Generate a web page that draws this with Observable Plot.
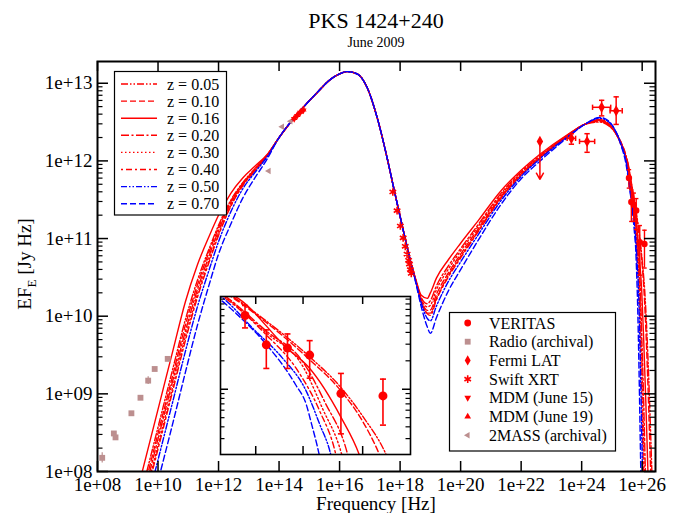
<!DOCTYPE html>
<html><head><meta charset="utf-8">
<script src="https://cdn.jsdelivr.net/npm/d3@7"></script>
<script src="https://cdn.jsdelivr.net/npm/@observablehq/plot@0.6"></script>
<style>
body{margin:0;background:#fff;}
#wrap{position:relative;width:685px;height:513px;overflow:hidden;background:#fff;font-family:"Liberation Serif","Times New Roman",serif;}
#wrap svg{position:absolute;}
</style></head><body><div id="wrap"></div>
<script>
// ---------------- axis ticks ----------------
const xTickValues = [1e8,1e10,1e12,1e14,1e16,1e18,1e20,1e22,1e24,1e26];
const xTickLabels = ["1e+08","1e+10","1e+12","1e+14","1e+16","1e+18","1e+20","1e+22","1e+24","1e+26"];
const yTickValues = [1e8,1e9,1e10,1e11,1e12,1e13];
const yTickLabels = ["1e+08","1e+09","1e+10","1e+11","1e+12","1e+13"];
const insetXTicks = [4e25, 6e25, 1e26];
const insetYMajor = [1e11];

// ---------------- model curves (log10 nu, log10 EF_E) ----------------
const zLabels = ["z = 0.05","z = 0.10","z = 0.16","z = 0.20","z = 0.30","z = 0.40","z = 0.50","z = 0.70"];
const low005 = [[9.5,7.8],[10.0,8.57],[10.5,9.34],[10.9,9.95],[11.3,10.46],[11.7,10.88],[12.0,11.17],[12.4,11.49],[12.8,11.72],[13.2,11.90],[13.6,12.07]];
const low010 = [[9.55,7.8],[10.0,8.49],[10.5,9.26],[10.9,9.88],[11.3,10.40],[11.7,10.84],[12.0,11.14],[12.4,11.47],[12.8,11.71],[13.2,11.89],[13.6,12.07]];
const low016 = [[9.35,7.8],[10.0,8.80],[10.5,9.57],[10.9,10.18],[11.3,10.66],[11.7,11.04],[12.0,11.30],[12.4,11.58],[12.8,11.78],[13.2,11.93],[13.6,12.08]];
const low020 = [[9.6,7.8],[10.0,8.42],[10.5,9.19],[10.9,9.80],[11.3,10.34],[11.7,10.79],[12.0,11.10],[12.4,11.45],[12.8,11.70],[13.2,11.88],[13.6,12.07]];
const low030 = [[9.65,7.8],[10.0,8.34],[10.5,9.11],[10.9,9.73],[11.3,10.28],[11.7,10.74],[12.0,11.06],[12.4,11.42],[12.8,11.69],[13.2,11.88],[13.6,12.06]];
const low040 = [[9.68,7.8],[10.0,8.29],[10.5,9.06],[10.9,9.68],[11.3,10.24],[11.7,10.71],[12.0,11.04],[12.4,11.41],[12.8,11.68],[13.2,11.87],[13.6,12.06]];
const low050 = [[9.77,7.8],[10.0,8.15],[10.5,8.92],[10.9,9.54],[11.3,10.12],[11.7,10.61],[12.0,10.96],[12.4,11.34],[12.8,11.64],[13.2,11.85],[13.6,12.05]];
const low070 = [[9.95,7.8],[10.5,8.64],[10.9,9.27],[11.3,9.88],[11.7,10.42],[12.0,10.80],[12.4,11.18],[12.8,11.52],[13.2,11.78],[13.6,12.02]];

const syncLogNu = [14.0,14.6,15.26,15.7,16.0,16.25,16.58,16.91,17.24,17.57,17.79,18.12,18.40];
const syncLogF  = [12.30,12.60,12.88,13.05,13.12,13.15,13.12,12.945,12.56,12.04,11.65,11.08,10.62];

const icLogNu = [18.5,18.7,18.9,19.0,19.2,19.6,20.0,20.6,21.3,22.0,22.6,23.5,24.1,24.6,24.9,25.1,25.3,25.47];
const ic005 = [10.48,10.19,10.04,10.04,10.23,10.53,10.77,11.11,11.51,11.82,12.03,12.31,12.47,12.50,12.45,12.37,12.24,12.06];
const ic010 = [10.48,10.21,10.075,10.08,10.28,10.56,10.80,11.135,11.525,11.83,12.04,12.31,12.47,12.51,12.46,12.38,12.24,12.05];
const ic016 = [10.50,10.27,10.23,10.30,10.49,10.73,10.94,11.24,11.60,11.88,12.08,12.33,12.47,12.53,12.46,12.38,12.23,12.04];
const ic020 = [10.49,10.24,10.16,10.20,10.39,10.65,10.87,11.19,11.565,11.86,12.06,12.32,12.47,12.52,12.46,12.37,12.22,12.02];
const ic030 = [10.49,10.22,10.12,10.14,10.34,10.61,10.84,11.165,11.545,11.845,12.05,12.32,12.47,12.53,12.47,12.37,12.21,12.01];
const ic040 = [10.48,10.19,10.03,10.01,10.21,10.51,10.75,11.10,11.50,11.82,12.03,12.31,12.47,12.53,12.48,12.38,12.21,12.00];
const ic050 = [10.47,10.17,9.97,9.94,10.13,10.45,10.70,11.06,11.47,11.80,12.02,12.30,12.47,12.55,12.50,12.40,12.22,11.99];
const ic070 = [10.46,10.12,9.86,9.78,9.98,10.33,10.60,10.99,11.42,11.77,11.99,12.29,12.47,12.56,12.51,12.40,12.20,11.95];

const vhe005 = [[25.64,11.725],[25.80,11.35],[25.92,11.015],[26.0,10.715],[26.087,10.31],[26.16,9.75],[26.24,8.95],[26.32,8.0],[26.37,7.4]];
const vhe010 = [[25.64,11.71],[25.80,11.32],[25.92,10.98],[26.0,10.66],[26.062,10.31],[26.13,9.75],[26.2,9.0],[26.28,8.0],[26.33,7.4]];
const vhe016 = [[25.52,11.99],[25.72,11.43],[25.80,11.23],[25.92,10.70],[25.987,10.31],[26.05,9.7],[26.12,8.9],[26.19,8.0],[26.24,7.4]];
const vhe020 = [[25.64,11.62],[25.78,11.28],[25.86,10.86],[25.944,10.31],[25.99,9.7],[26.05,8.9],[26.1,8.1],[26.15,7.4]];
const vhe030 = [[25.64,11.60],[25.78,11.23],[25.85,10.80],[25.922,10.31],[25.97,9.7],[26.02,8.9],[26.07,8.0],[26.11,7.4]];
const vhe040 = [[25.64,11.58],[25.76,11.19],[25.84,10.77],[25.90,10.31],[25.94,9.7],[25.99,8.9],[26.04,8.0],[26.08,7.4]];
const vhe050 = [[25.60,11.62],[25.70,11.335],[25.79,10.98],[25.84,10.63],[25.881,10.31],[25.92,9.7],[25.96,9.0],[26.0,8.2],[26.04,7.5]];
const vhe070 = [[25.53,11.80],[25.64,11.48],[25.75,11.05],[25.79,10.84],[25.81,10.63],[25.838,10.31],[25.87,9.8],[25.91,9.0],[25.95,8.1],[25.98,7.5]];

// ---------------- observations ----------------
const veritasNu = [3.65e25,4.38e25,5.25e25,6.35e25,8.30e25,1.19e26];
const veritasF  = [6.03e11,2.95e11,2.73e11,2.30e11,9.0e10,8.5e10];
const veritasHi = [7.71e11,4.25e11,3.85e11,3.27e11,1.47e11,1.28e11];
const veritasLo = [4.46e11,1.66e11,1.66e11,1.31e11,3.37e10,4.17e10];

const radioNu = [1.43e8,3.47e8,3.94e8,1.32e9,2.63e9,4.73e9,7.76e9,2.09e10];
const radioF  = [1.50e8,3.09e8,2.75e8,5.62e8,8.91e8,1.48e9,2.09e9,2.82e9];
const radioLo = [1.29e8,2.95e8,2.63e8,5.40e8,8.60e8,1.32e9,1.99e9,2.72e9];
const radioHi = [1.75e8,3.24e8,2.88e8,5.85e8,9.22e8,1.66e9,2.19e9,2.92e9];

const fermiNu = [4.57e23,1.51e24,4.57e24,1.38e25];
const fermiF  = [1.95e12,1.78e12,4.90e12,4.42e12];
const fermiNuLo = [3.31e23,8.5e23,2.29e24,8.7e24];
const fermiNuHi = [6.31e23,2.69e24,9.12e24,2.19e25];
const fermiFLo = [1.64e12,1.29e12,3.80e12,2.95e12];
const fermiFHi = [2.24e12,2.24e12,6.03e12,6.68e12];
const fermiULNu = [4.17e22];
const fermiULF = [1.78e12];
const fermiULEnd = [5.8e11];

const swiftNu = [5.75e17,7.94e17,1.02e18,1.26e18,1.48e18,1.70e18,1.91e18,2.04e18,2.19e18,2.34e18];
const swiftF  = [3.98e11,2.29e11,1.45e11,1.02e11,7.94e10,6.31e10,5.25e10,4.68e10,3.98e10,3.55e10];

const mdmNu = [3.16e14,3.98e14,5.01e14,6.31e14];
const mdm15F = [3.47e12,3.80e12,4.17e12,4.47e12];
const mdm19F = [3.55e12,3.89e12,4.27e12,4.57e12];

const twomassNu = [1.26e14,2.40e14,4.57e13];
const twomassF  = [2.75e12,3.24e12,7.41e11];

// ---------------- build tables ----------------
const lows = [low005,low010,low016,low020,low030,low040,low050,low070];
const ics = [ic005,ic010,ic016,ic020,ic030,ic040,ic050,ic070];
const vhes = [vhe005,vhe010,vhe016,vhe020,vhe030,vhe040,vhe050,vhe070];
const RED = "#ff0000", BLUE = "#0000ff", ROSY = "#bc8f8f";
const styles = [
  {color: RED, dash: "7,2,1.5,2,1.5,2"},
  {color: RED, dash: "6,3"},
  {color: RED, dash: null},
  {color: RED, dash: "8,2.5,2,2.5"},
  {color: RED, dash: "1.5,2.5"},
  {color: RED, dash: "2,3,6,3"},
  {color: BLUE, dash: "6,2,1.5,2,1.5,2"},
  {color: BLUE, dash: "6,3"}
];
const curves = zLabels.map((z, k) => {
  const rows = [];
  lows[k].forEach(([a,b]) => rows.push({nu: 10**a, f: 10**b}));
  syncLogNu.forEach((a,i) => rows.push({nu: 10**a, f: 10**syncLogF[i]}));
  icLogNu.forEach((a,i) => rows.push({nu: 10**a, f: 10**ics[k][i]}));
  vhes[k].forEach(([a,b]) => rows.push({nu: 10**a, f: 10**b}));
  return {z, rows, ...styles[k]};
});
const veritas = veritasNu.map((nu,i) => ({nu, f: veritasF[i], lo: veritasLo[i], hi: veritasHi[i]}));
const radio = radioNu.map((nu,i) => ({nu, f: radioF[i], lo: radioLo[i], hi: radioHi[i]}));
const fermi = fermiNu.map((nu,i) => ({nu, f: fermiF[i], nlo: fermiNuLo[i], nhi: fermiNuHi[i], lo: fermiFLo[i], hi: fermiFHi[i]}));
const fermiUL = fermiULNu.map((nu,i) => ({nu, f: fermiULF[i], end: fermiULEnd[i]}));
const swift = swiftNu.map((nu,i) => ({nu, f: swiftF[i]}));
const mdm15 = mdmNu.map((nu,i) => ({nu, f: mdm15F[i]}));
const mdm19 = mdmNu.map((nu,i) => ({nu, f: mdm19F[i]}));
const twomass = twomassNu.map((nu,i) => ({nu, f: twomassF[i]}));

// ---------------- custom symbols ----------------
const capH = {draw(ctx, size){ const s = Math.sqrt(size)/2; ctx.moveTo(-s,0); ctx.lineTo(s,0);} };
const capV = {draw(ctx, size){ const s = Math.sqrt(size)/2; ctx.moveTo(0,-s); ctx.lineTo(0,s);} };
const triDown = {draw(ctx, size){ const r = Math.sqrt(size/Math.PI)*1.25; ctx.moveTo(0,r); ctx.lineTo(r*0.87,-r*0.5); ctx.lineTo(-r*0.87,-r*0.5); ctx.closePath(); }};
const triUp = {draw(ctx, size){ const r = Math.sqrt(size/Math.PI)*1.25; ctx.moveTo(0,-r); ctx.lineTo(r*0.87,r*0.5); ctx.lineTo(-r*0.87,r*0.5); ctx.closePath(); }};
const triLeft = {draw(ctx, size){ const r = Math.sqrt(size/Math.PI)*1.25; ctx.moveTo(-r,0); ctx.lineTo(r*0.5,-r*0.87); ctx.lineTo(r*0.5,r*0.87); ctx.closePath(); }};

// ---------------- main plot ----------------
const W = 685, H = 513;
const M = {left: 97, right: 30, top: 61, bottom: 42};
const PW = W - M.left - M.right, PH = H - M.top - M.bottom;

const curveMarks = curves.map(c => Plot.line(c.rows, {x: "nu", y: "f", stroke: c.color, strokeWidth: 1.4, strokeDasharray: c.dash, curve: "monotone-x", clip: true}));

const yMinor = [];
for (let e = 8; e <= 13; e++) for (let m = 2; m <= 9; m++) { const v = m * 10**e; if (v < 10**13.28) yMinor.push(v); }

const main = Plot.plot({
  width: W, height: H,
  marginLeft: M.left, marginRight: M.right, marginTop: M.top, marginBottom: M.bottom,
  style: {fontFamily: "Liberation Serif, Times New Roman, serif", fontSize: "19px", background: "white", color: "black"},
  x: {type: "log", domain: [1e8, 10**26.44]},
  y: {type: "log", domain: [1e8, 10**13.28]},
  marks: [
    ...curveMarks,
    Plot.ruleX(radio, {x: "nu", y1: "lo", y2: "hi", stroke: ROSY, strokeWidth: 1.2}),
    Plot.dot(radio, {x: "nu", y: "f", symbol: "square", r: 3.3, fill: ROSY, stroke: "none"}),
    Plot.dot(twomass, {x: "nu", y: "f", symbol: triLeft, r: 3, fill: ROSY, stroke: "none"}),
    Plot.dot(mdm15, {x: "nu", y: "f", symbol: triDown, r: 3, fill: RED, stroke: "none"}),
    Plot.dot(mdm19, {x: "nu", y: "f", symbol: triUp, r: 3, fill: RED, stroke: "none"}),
    Plot.dot(swift, {x: "nu", y: "f", symbol: "asterisk", r: 3.6, stroke: RED, strokeWidth: 1.6, fill: "none"}),
    Plot.ruleX(fermi, {x: "nu", y1: "lo", y2: "hi", stroke: RED, strokeWidth: 1.5}),
    Plot.ruleY(fermi, {y: "f", x1: "nlo", x2: "nhi", stroke: RED, strokeWidth: 1.5}),
    Plot.dot(fermi, {x: "nu", y: "lo", symbol: capH, r: 3, stroke: RED, strokeWidth: 1.5, fill: "none"}),
    Plot.dot(fermi, {x: "nu", y: "hi", symbol: capH, r: 3, stroke: RED, strokeWidth: 1.5, fill: "none"}),
    Plot.dot(fermi, {x: "nlo", y: "f", symbol: capV, r: 3, stroke: RED, strokeWidth: 1.5, fill: "none"}),
    Plot.dot(fermi, {x: "nhi", y: "f", symbol: capV, r: 3, stroke: RED, strokeWidth: 1.5, fill: "none"}),
    Plot.dot(fermi, {x: "nu", y: "f", symbol: "diamond", r: 3.4, fill: RED, stroke: "none"}),
    Plot.arrow(fermiUL, {x1: "nu", y1: "f", x2: "nu", y2: "end", stroke: RED, strokeWidth: 1.5, headLength: 7}),
    Plot.dot(fermiUL, {x: "nu", y: "f", symbol: "diamond", r: 3.4, fill: RED, stroke: "none"}),
    Plot.ruleX(veritas, {x: "nu", y1: "lo", y2: "hi", stroke: RED, strokeWidth: 1.4}),
    Plot.dot(veritas, {x: "nu", y: "lo", symbol: capH, r: 2.5, stroke: RED, strokeWidth: 1.4, fill: "none"}),
    Plot.dot(veritas, {x: "nu", y: "hi", symbol: capH, r: 2.5, stroke: RED, strokeWidth: 1.4, fill: "none"}),
    Plot.dot(veritas, {x: "nu", y: "f", r: 3.2, fill: RED, stroke: "none"}),
    Plot.tickX(xTickValues, {x: d => d, insetTop: PH - 10, stroke: "black", strokeWidth: 1.5}),
    Plot.tickX(xTickValues, {x: d => d, insetBottom: PH - 10, stroke: "black", strokeWidth: 1.5}),
    Plot.tickY(yTickValues, {y: d => d, insetRight: PW - 11, stroke: "black", strokeWidth: 1.5}),
    Plot.tickY(yTickValues, {y: d => d, insetLeft: PW - 11, stroke: "black", strokeWidth: 1.5}),
    Plot.tickY(yMinor, {y: d => d, insetRight: PW - 5.5, stroke: "black", strokeWidth: 1.2}),
    Plot.tickY(yMinor, {y: d => d, insetLeft: PW - 5.5, stroke: "black", strokeWidth: 1.2}),
    Plot.axisX({ticks: xTickValues, tickSize: 0, tickPadding: 6, tickFormat: d => xTickLabels[xTickValues.indexOf(d)], label: null}),
    Plot.axisY({ticks: yTickValues, tickSize: 0, tickPadding: 5, tickFormat: d => yTickLabels[yTickValues.indexOf(d)], label: null}),
    Plot.frame({stroke: "black", strokeWidth: 2})
  ]
});
main.style.left = "0px"; main.style.top = "0px";
document.getElementById("wrap").appendChild(main);

// ---------------- inset ----------------
const IW = 192, IH = 160, IPW = IW - 2, IPH = IH - 2;
const insMinor = [];
for (let e = 10; e <= 11; e++) for (let m = 2; m <= 9; m++) { const v = m * 10**e; if (v > 10**10.309 && v < 10**11.982) insMinor.push(v); }
const inset = Plot.plot({
  width: IW, height: IH, margin: 1,
  style: {background: "white", overflow: "visible"},
  x: {type: "log", domain: [10**25.471, 10**26.178], axis: null},
  y: {type: "log", domain: [10**10.309, 10**11.982], axis: null},
  marks: [
    ...curves.map(c => Plot.line(c.rows, {x: "nu", y: "f", stroke: c.color, strokeWidth: 1.4, strokeDasharray: c.dash, curve: "monotone-x", clip: true})),
    Plot.ruleX(veritas, {x: "nu", y1: "lo", y2: "hi", stroke: RED, strokeWidth: 1.6}),
    Plot.dot(veritas, {x: "nu", y: "lo", symbol: capH, r: 3.4, stroke: RED, strokeWidth: 1.6, fill: "none"}),
    Plot.dot(veritas, {x: "nu", y: "hi", symbol: capH, r: 3.4, stroke: RED, strokeWidth: 1.6, fill: "none"}),
    Plot.dot(veritas, {x: "nu", y: "f", r: 4.5, fill: RED, stroke: "none"}),
    Plot.tickX(insetXTicks, {x: d => d, insetTop: IPH - 8, stroke: "black", strokeWidth: 1.5}),
    Plot.tickX(insetXTicks, {x: d => d, insetBottom: IPH - 8, stroke: "black", strokeWidth: 1.5}),
    Plot.tickY(insetYMajor, {y: d => d, insetRight: IPW - 8, stroke: "black", strokeWidth: 1.5}),
    Plot.tickY(insetYMajor, {y: d => d, insetLeft: IPW - 8, stroke: "black", strokeWidth: 1.5}),
    Plot.tickY(insMinor, {y: d => d, insetRight: IPW - 4.5, stroke: "black", strokeWidth: 1.2}),
    Plot.tickY(insMinor, {y: d => d, insetLeft: IPW - 4.5, stroke: "black", strokeWidth: 1.2}),
    Plot.frame({stroke: "black", strokeWidth: 1.6})
  ]
});
inset.style.left = "219px"; inset.style.top = "295px";
document.getElementById("wrap").appendChild(inset);

// ---------------- overlay: titles and legends ----------------
const ov = d3.select("#wrap").append("svg").attr("width", W).attr("height", H)
  .style("left", "0px").style("top", "0px").style("pointer-events", "none")
  .style("font-family", "Liberation Serif, Times New Roman, serif");
ov.append("text").attr("x", 376).attr("y", 28).attr("text-anchor", "middle").attr("font-size", 22).text("PKS 1424+240");
ov.append("text").attr("x", 376).attr("y", 47).attr("text-anchor", "middle").attr("font-size", 14).text("June 2009");
ov.append("text").attr("x", 376).attr("y", 510).attr("text-anchor", "middle").attr("font-size", 19).text("Frequency [Hz]");
const yl = ov.append("text").attr("transform", "translate(31,264) rotate(-90)").attr("text-anchor", "middle").attr("font-size", 19);
yl.append("tspan").text("EF");
yl.append("tspan").attr("dy", 5).attr("font-size", 13).text("E");
yl.append("tspan").attr("dy", -5).text(" [Jy Hz]");

const g1 = ov.append("g");
g1.append("rect").attr("x", 114.5).attr("y", 71.5).attr("width", 112).attr("height", 143.5).attr("fill", "white").attr("stroke", "black").attr("stroke-width", 1.2);
curves.forEach((c, i) => {
  const y = 84 + i * 17.1;
  g1.append("line").attr("x1", 121).attr("x2", 157).attr("y1", y).attr("y2", y)
    .attr("stroke", c.color).attr("stroke-width", 1.4).attr("stroke-dasharray", c.dash);
  g1.append("text").attr("x", 167).attr("y", y + 5.5).attr("font-size", 16).text(c.z);
});

const g2 = ov.append("g");
g2.append("rect").attr("x", 449.5).attr("y", 312.5).attr("width", 166).attr("height", 138.5).attr("fill", "white").attr("stroke", "black").attr("stroke-width", 1.2);
const dataLegend = [
  {label: "VERITAS", sym: d3.symbolCircle, size: 36, fill: RED},
  {label: "Radio (archival)", sym: d3.symbolSquare, size: 34, fill: ROSY},
  {label: "Fermi LAT", sym: d3.symbolDiamond, size: 30, fill: RED},
  {label: "Swift XRT", sym: d3.symbolAsterisk, size: 40, stroke: RED},
  {label: "MDM (June 15)", sym: triDown, size: 30, fill: RED},
  {label: "MDM (June 19)", sym: triUp, size: 30, fill: RED},
  {label: "2MASS (archival)", sym: triLeft, size: 28, fill: ROSY}
];
dataLegend.forEach((d, i) => {
  const y = 323 + i * 18.7;
  g2.append("path").attr("transform", `translate(467.7,${y})`)
    .attr("d", d3.symbol(d.sym, d.size)())
    .attr("fill", d.fill || "none").attr("stroke", d.stroke || "none").attr("stroke-width", 1.6);
  g2.append("text").attr("x", 489).attr("y", y + 5.5).attr("font-size", 16).text(d.label);
});
</script></body></html>
